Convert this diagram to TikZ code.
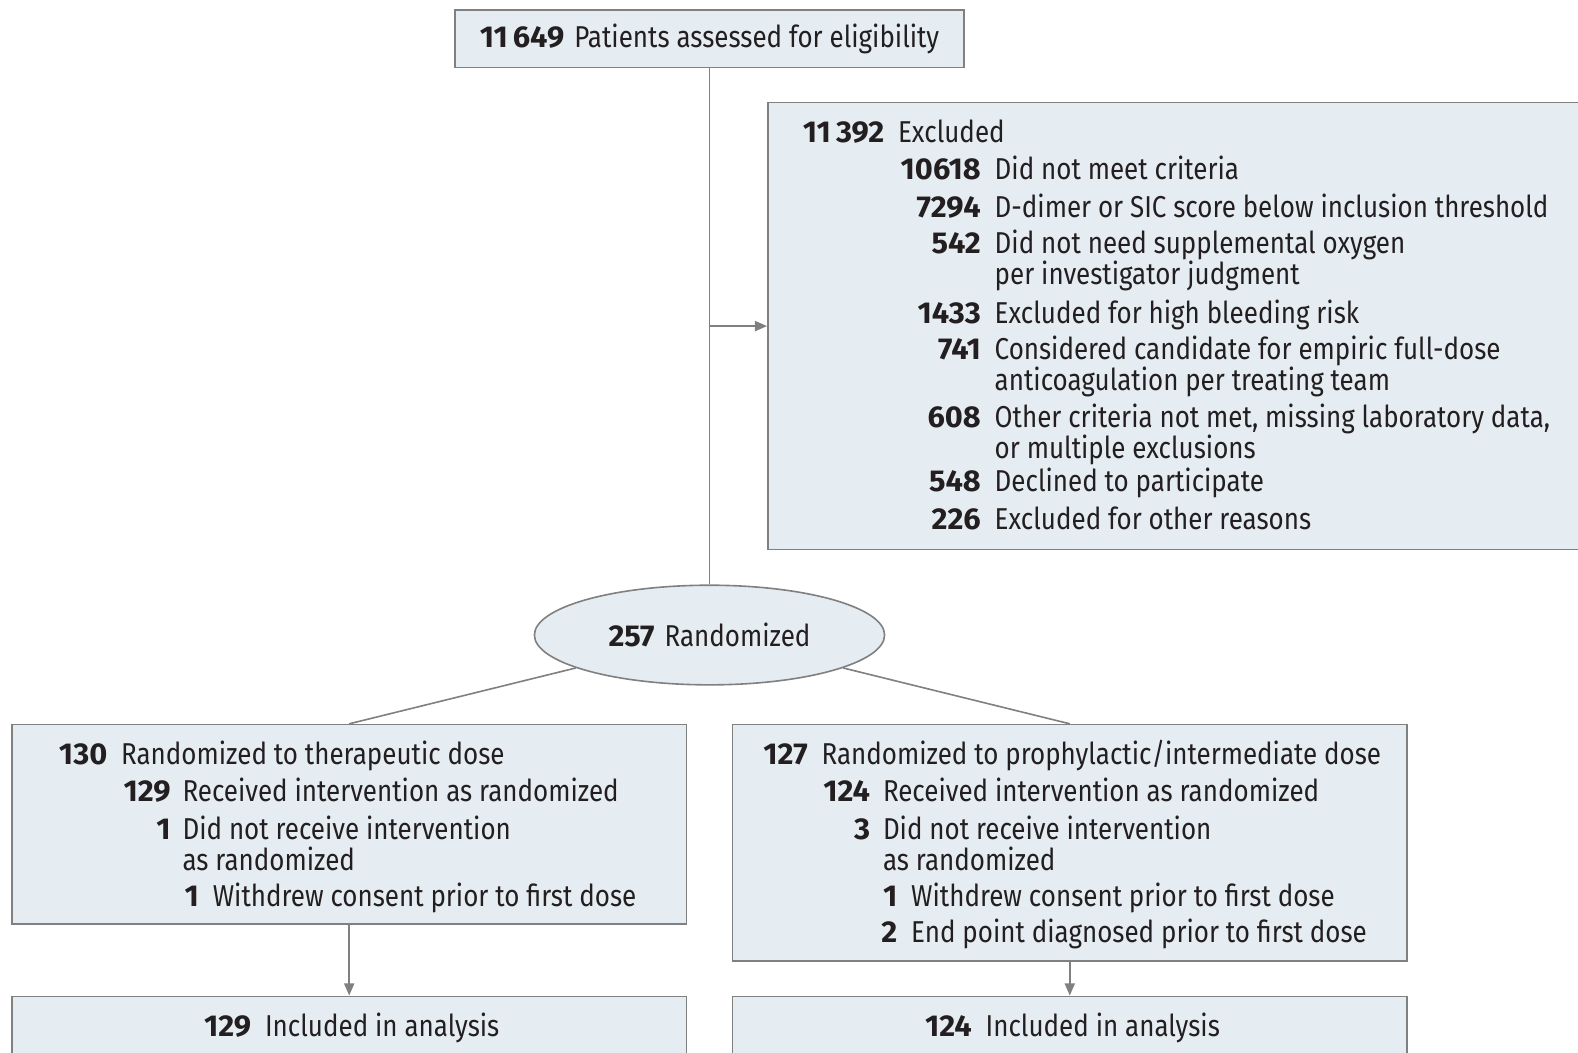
\documentclass[tikz,border=0pt]{standalone}
\usepackage{fontspec}
\setmainfont{Fira Sans}[FakeStretch=0.86, BoldFeatures={FakeStretch=1.02}]
\usetikzlibrary{shapes.geometric, arrows.meta, positioning}
\definecolor{cBox}{RGB}{230,237,242}
\definecolor{cLine}{RGB}{128,128,128}
\definecolor{cText}{RGB}{35,31,32}

\begin{document}
\begin{tikzpicture}[x=0.5pt, y=-0.5pt, text=cText,
            font=\fontsize{15}{18}\selectfont,
            box/.style={draw=cLine, fill=cBox, line width=0.8pt, inner sep=0pt},
            num/.style={anchor=base east, inner sep=0pt, font=\fontsize{15}{18}\selectfont\bfseries},
            txt/.style={anchor=base west, inner sep=0pt},
            link/.style={draw=cLine, line width=0.8pt},
            arr/.style={link, -{Triangle[length=6pt, width=5pt]}}]
            \clip (0,0) rectangle (1568,1046);
            % boxes
            \node[box, minimum width=253pt, minimum height=28.5pt] (screen) at (705,38.5)
                {\textbf{11\,649}\hspace{5pt}Patients assessed for eligibility};
            \node[box, minimum width=418.5pt, minimum height=222pt] (excl) at (1181.5,324) {};
            \node[box, ellipse, minimum width=174pt, minimum height=49.5pt] (rand) at (705,631)
                {\textbf{257}\hspace{5pt}Randomized};
            \node[box, minimum width=335pt, minimum height=99pt] (ther) at (347,819) {};
            \node[box, minimum width=335pt, minimum height=117.5pt] (proph) at (1063,837.5) {};
            \node[box, minimum width=335pt, minimum height=40pt] (therA) at (347,1030) {};
            \node[box, minimum width=335pt, minimum height=40pt] (prophA) at (1063,1030) {};
            % numbered rows
            \foreach \k/\nx/\tx/\y/\n/\t in {
                e0/879/892/142/11\,392/Excluded,
                e1/975/988/178/10618/Did not meet criteria,
                e2/975/988/216/7294/D-dimer or SIC score below inclusion threshold,
                e3/975/988/252/542/Did not need supplemental oxygen,
                e4/975/988/321/1433/Excluded for high bleeding risk,
                e5/975/988/357/741/Considered candidate for empiric full-dose,
                e6/975/988/425/608/{Other criteria not met, missing laboratory data,},
                e7/975/988/488/548/Declined to participate,
                e8/975/988/526/226/Excluded for other reasons,
                a0/107/120/760/130/Randomized to therapeutic dose,
                a1/170/181/796/129/Received intervention as randomized,
                a2/170/181/834/1/Did not receive intervention,
                a3/198/211/901/1/Withdrew consent prior to first dose,
                a4/250/263/1030/129/Included in analysis,
                b0/803/816/760/127/{Randomized to prophylactic/intermediate dose},
                b1/865/877/796/124/Received intervention as randomized,
                b2/865/877/834/3/Did not receive intervention,
                b3/892/905/901/1/Withdrew consent prior to first dose,
                b4/892/905/937/2/End point diagnosed prior to first dose,
                b5/966/979/1030/124/Included in analysis}{
                \node[num] (n\k) at (\nx,\y) {\n};
                \node[txt] (t\k) at (\tx,\y) {\t};}
            % second lines
            \foreach \k/\tx/\y/\t in {e3/988/283/per investigator judgment,
                                      e5/988/388/anticoagulation per treating team,
                                      e6/988/456/or multiple exclusions,
                                      a2/181/865/as randomized,
                                      b2/877/865/as randomized}{
                \node[txt] (s\k) at (\tx,\y) {\t};}
            % connectors
            \draw[link] (screen.south) -- (rand.north);
            \draw[arr] (screen.south |- excl.west) -- (excl.west);
            \draw[link] (rand) -- (ther.north);
            \draw[link] (rand) -- (proph.north);
            \draw[arr] (ther.south) -- (therA.north);
            \draw[arr] (proph.south) -- (prophA.north);
        \end{tikzpicture}
\end{document}
